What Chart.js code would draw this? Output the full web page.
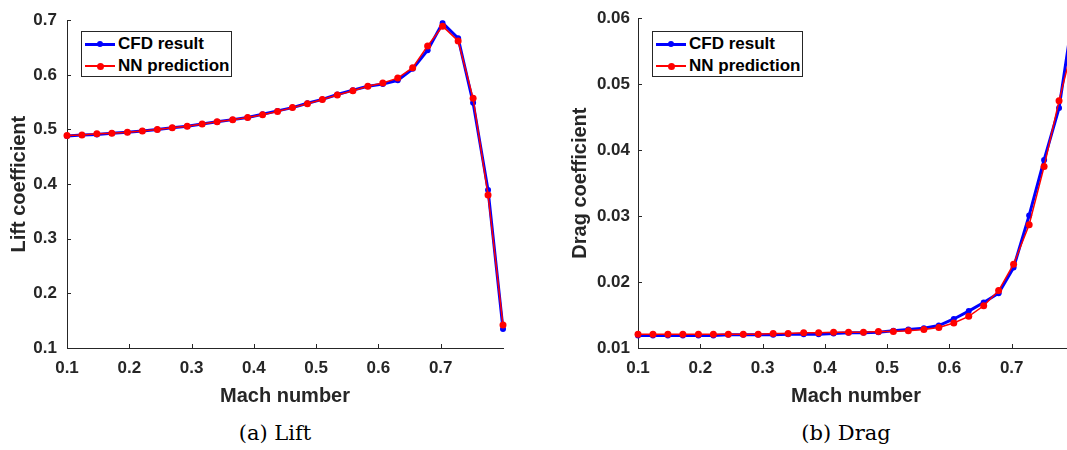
<!DOCTYPE html>
<html>
<head>
<meta charset="utf-8">
<script src="https://cdn.jsdelivr.net/npm/chart.js@4.4.1/dist/chart.umd.min.js"></script>
<style>
    body { margin: 0; width: 1067px; height: 450px; overflow: hidden; background: #fff; position: relative; }
    canvas { position: absolute; top: 0; }
    #liftCanvas { left: 0; }
    #dragCanvas { left: 560px; }
    .legend { position: absolute; top: 31px; width: 149px; height: 44px; border: 1px solid #262626; background: #fff;
              font: bold 17px "Liberation Sans", Arial, sans-serif; color: #000; }
    .legend .row { position: absolute; left: 3px; height: 20px; line-height: 20px; white-space: nowrap; }
    .legend .row span.sample { position: absolute; left: 0; top: 10px; width: 30px; }
    .legend .row span.dot { position: absolute; left: 12px; border-radius: 50%; }
    .legend .row span.txt { position: absolute; left: 33px; top: 0; }
    .caption { position: absolute; top: 421px; font: 21px "DejaVu Serif", serif; color: #000; transform: translateX(-50%); white-space: nowrap; }
</style>
</head>
<body>
<canvas id="liftCanvas" width="540" height="420"></canvas>
<canvas id="dragCanvas" width="540" height="420"></canvas>
<div class="legend" id="liftLegend" style="left:81px"></div>
<div class="legend" id="dragLegend" style="left:652px"></div>
<div class="caption" style="left:275px">(a) Lift</div>
<div class="caption" style="left:846px">(b) Drag</div>
<script>
// values
const machNumbers = [0.1, 0.124, 0.148, 0.172, 0.197, 0.221, 0.245, 0.269, 0.293, 0.317,
    0.341, 0.366, 0.39, 0.414, 0.438, 0.462, 0.486, 0.51, 0.534, 0.559,
    0.583, 0.607, 0.631, 0.655, 0.679, 0.703, 0.728, 0.752, 0.776, 0.8];

const liftCFD = [0.488, 0.490, 0.491, 0.493, 0.495, 0.497, 0.500, 0.503, 0.506, 0.510,
    0.514, 0.518, 0.522, 0.528, 0.534, 0.540, 0.548, 0.555, 0.564, 0.572,
    0.579, 0.583, 0.590, 0.611, 0.645, 0.695, 0.667, 0.549, 0.389, 0.135];
const liftNN = [0.489, 0.490, 0.492, 0.493, 0.495, 0.497, 0.500, 0.503, 0.506, 0.510,
    0.514, 0.518, 0.522, 0.527, 0.533, 0.540, 0.547, 0.555, 0.563, 0.571,
    0.579, 0.585, 0.594, 0.613, 0.653, 0.689, 0.662, 0.557, 0.380, 0.142];

const dragCFD = [0.0119, 0.0119, 0.0119, 0.0119, 0.0119, 0.0119, 0.0120, 0.0120, 0.0120, 0.0120,
    0.0121, 0.0121, 0.0121, 0.0122, 0.0123, 0.0123, 0.0124, 0.0126, 0.0128, 0.0130,
    0.0134, 0.0144, 0.0156, 0.0169, 0.0183, 0.0222, 0.0301, 0.0385, 0.0464, 0.0615];
const dragNN = [0.0121, 0.0121, 0.0121, 0.0121, 0.0121, 0.0121, 0.0121, 0.0121, 0.0121, 0.0122,
    0.0122, 0.0123, 0.0123, 0.0124, 0.0124, 0.0124, 0.0125, 0.0125, 0.0126, 0.0128,
    0.0131, 0.0138, 0.0148, 0.0164, 0.0187, 0.0227, 0.0287, 0.0375, 0.0475, 0.0565];

const xTicks = [0.1, 0.2, 0.3, 0.4, 0.5, 0.6, 0.7];
const liftTicks = [0.1, 0.2, 0.3, 0.4, 0.5, 0.6, 0.7];
const dragTicks = [0.01, 0.02, 0.03, 0.04, 0.05, 0.06];

const seriesNames = ['CFD result', 'NN prediction'];
const seriesColors = ['#0000ff', '#ff0000'];

const axisColor = '#262626';
const tickFont = {family: '"Liberation Sans", Arial, sans-serif', size: 17, weight: 'bold'};
const titleFont = {family: '"Liberation Sans", Arial, sans-serif', size: 20, weight: 'bold'};

// MATLAB style ticks pointing into the plot
const inwardTicks = {
    id: 'inwardTicks',
    beforeDatasetsDraw(chart){
        let ctx = chart.ctx;
        let area = chart.chartArea;
        let x = chart.scales.x;
        let y = chart.scales.y;
        ctx.save();
        ctx.strokeStyle = axisColor;
        ctx.lineWidth = 1;
        ctx.beginPath();
        x.ticks.forEach(t => {
            let px = Math.round(x.getPixelForValue(t.value)) + 0.5;
            ctx.moveTo(px, area.bottom);
            ctx.lineTo(px, area.bottom - 4);
        });
        y.ticks.forEach(t => {
            let py = Math.round(y.getPixelForValue(t.value)) + 0.5;
            ctx.moveTo(area.left, py);
            ctx.lineTo(area.left + 4, py);
        });
        ctx.stroke();
        ctx.restore();
    }
};

function points(values){
    return machNumbers.map((m, i) => ({x: m, y: values[i]}));
}

function makeChart(canvasId, cfd, nn, yTicks, yMin, yMax, yTitle, decimals, opts){
    let ctx = document.getElementById(canvasId).getContext('2d');
    let config = {
        type: 'line',
        data: {
            datasets: [{
                label: seriesNames[0],
                data: points(cfd),
                borderColor: seriesColors[0],
                backgroundColor: seriesColors[0],
                borderWidth: 3,
                pointRadius: 3,
                pointBorderWidth: 0,
                order: 2,
                clip: {left: 6, right: 6, top: 0, bottom: 6}
            }, {
                label: seriesNames[1],
                data: points(nn),
                borderColor: seriesColors[1],
                backgroundColor: seriesColors[1],
                borderWidth: 1.5,
                pointRadius: 3.5,
                pointBorderWidth: 0,
                order: 1,
                clip: {left: 6, right: 6, top: 0, bottom: 6}
            }]
        },
        options: {
            responsive: false,
            animation: false,
            layout: {padding: {top: 17, right: opts.padRight, left: 0, bottom: 0}},
            plugins: {
                legend: {display: false},
                tooltip: {enabled: false}
            },
            scales: {
                x: {
                    type: 'linear',
                    min: 0.1,
                    max: 0.8,
                    afterBuildTicks: scale => { scale.ticks = xTicks.map(v => ({value: v})); },
                    afterFit: scale => { scale.height = 72; },
                    grid: {display: false, drawTicks: false},
                    border: {display: true, color: axisColor, width: 1},
                    ticks: {
                        color: axisColor, font: tickFont, padding: 10, maxRotation: 0,
                        callback: v => v.toFixed(1)
                    },
                    title: {display: true, text: 'Mach number', color: axisColor, font: titleFont, padding: {top: 0, bottom: 12}}
                },
                y: {
                    type: 'linear',
                    min: yMin,
                    max: yMax,
                    afterBuildTicks: scale => { scale.ticks = yTicks.map(v => ({value: v})); },
                    afterFit: scale => { scale.width = opts.yWidth; },
                    grid: {display: false, drawTicks: false},
                    border: {display: true, color: axisColor, width: 1},
                    ticks: {
                        color: axisColor, font: tickFont, padding: opts.tickPad,
                        callback: v => v.toFixed(decimals)
                    },
                    title: {display: true, text: yTitle, color: axisColor, font: titleFont, padding: {top: opts.titlePad, bottom: 0}}
                }
            }
        },
        plugins: [inwardTicks]
    };
    return new Chart(ctx, config);
}

function buildLegend(id){
    let box = document.getElementById(id);
    seriesNames.forEach((name, i) => {
        let row = document.createElement('div');
        row.className = 'row';
        row.style.top = (i == 0 ? 2 : 24) + 'px';
        let sample = document.createElement('span');
        sample.className = 'sample';
        let lw = i == 0 ? 3 : 1.5;
        sample.style.height = lw + 'px';
        sample.style.marginTop = (-lw / 2) + 'px';
        sample.style.background = seriesColors[i];
        let dot = document.createElement('span');
        dot.className = 'dot';
        let d = i == 0 ? 6 : 7;
        dot.style.width = d + 'px';
        dot.style.height = d + 'px';
        dot.style.top = (lw / 2 - d / 2) + 'px';
        dot.style.background = seriesColors[i];
        sample.appendChild(dot);
        let txt = document.createElement('span');
        txt.className = 'txt';
        txt.innerText = name;
        row.appendChild(sample);
        row.appendChild(txt);
        box.appendChild(row);
    });
}

makeChart('liftCanvas', liftCFD, liftNN, liftTicks, 0.1, 0.7, 'Lift coefficient', 1,
    {padRight: 37, yWidth: 67, tickPad: 10, titlePad: 7});
makeChart('dragCanvas', dragCFD, dragNN, dragTicks, 0.01, 0.06, 'Drag coefficient', 2,
    {padRight: 26, yWidth: 78, tickPad: 8, titlePad: 8});
buildLegend('liftLegend');
buildLegend('dragLegend');
</script>
</body>
</html>
